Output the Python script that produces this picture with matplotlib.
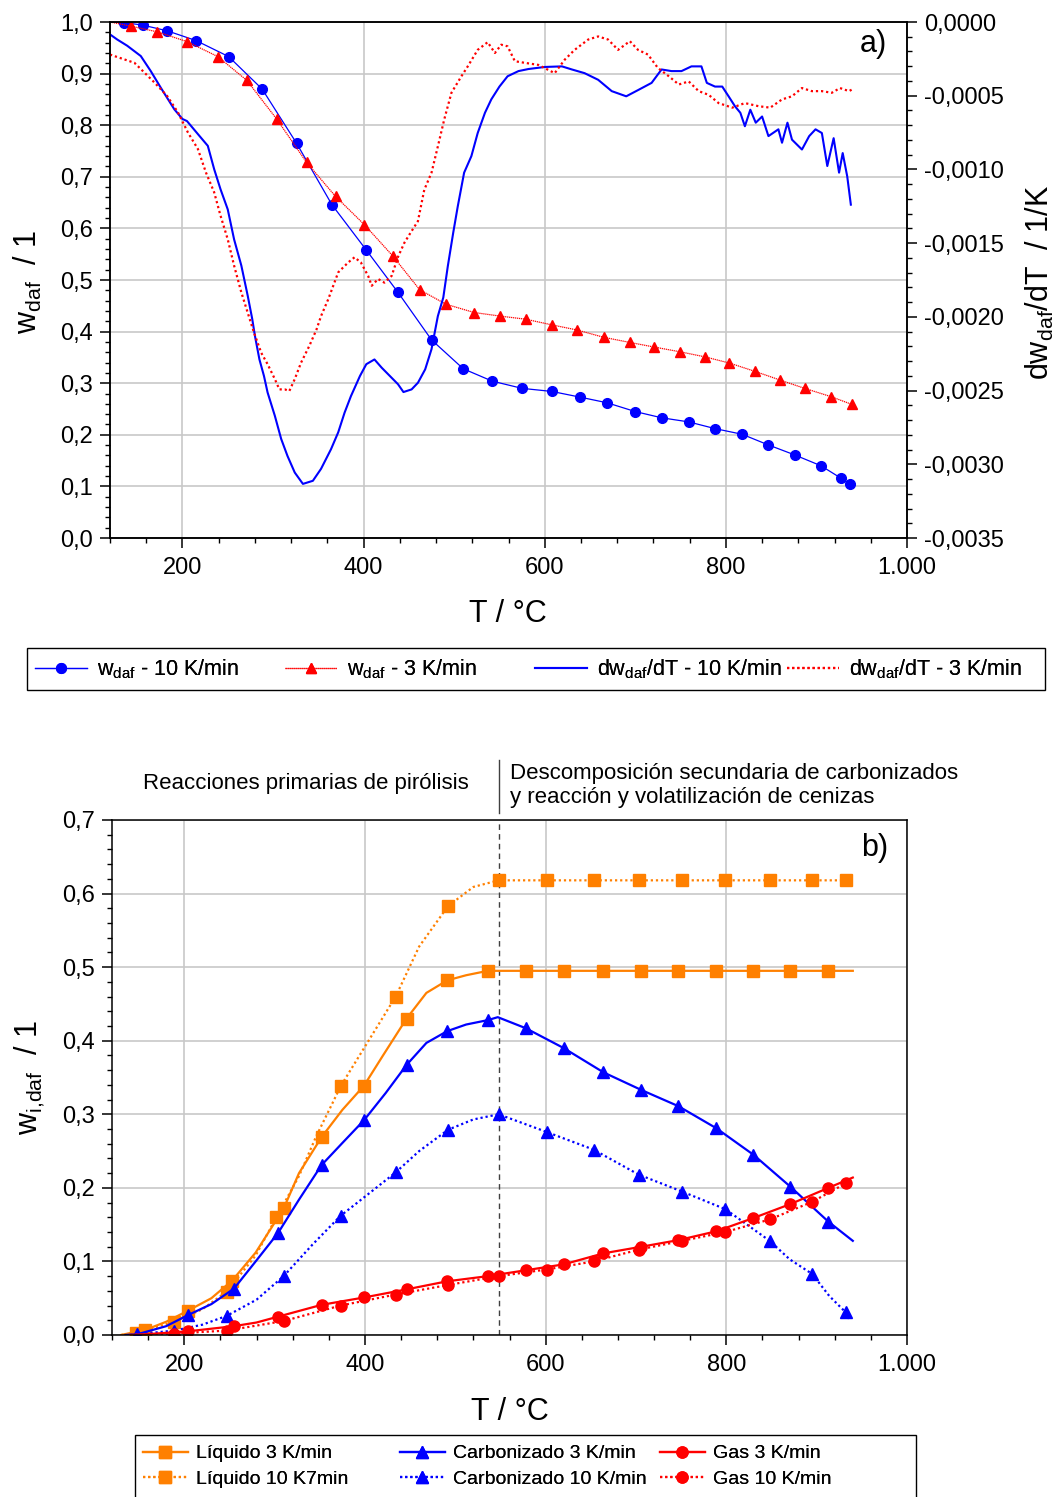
import numpy as np
import matplotlib
matplotlib.use('Agg')
import matplotlib.pyplot as plt
from matplotlib.ticker import MultipleLocator, FuncFormatter
from matplotlib.patches import Rectangle

plt.rcParams['font.family'] = ['Liberation Sans', 'DejaVu Sans']
plt.rcParams['mathtext.default'] = 'regular'

# ---------------- Panel a data ----------------
# w_daf, 10 K/min (line start + circle markers)
wdaf10_T = [120, 135, 156, 183, 215, 251, 288, 326, 365, 403, 438, 475, 510, 542, 575, 608, 639,
            669, 700, 729, 759, 788, 818, 846, 876, 905, 927, 937]
wdaf10_w = [1.000, 0.999, 0.994, 0.983, 0.964, 0.933, 0.870, 0.765, 0.646, 0.558, 0.476, 0.384, 0.328,
            0.304, 0.290, 0.284, 0.273, 0.262, 0.245, 0.233, 0.225, 0.212, 0.201, 0.181, 0.161, 0.140,
            0.116, 0.104]
# w_daf, 3 K/min (line start + triangle markers)
wdaf3_T = [120, 143, 172, 205, 239, 271, 304, 337, 369, 401, 432, 462, 491, 522, 551, 579, 608, 636,
           665, 694, 721, 749, 777, 804, 832, 860, 887, 916, 939]
wdaf3_w = [1.000, 0.992, 0.981, 0.962, 0.933, 0.887, 0.812, 0.728, 0.662, 0.607, 0.547, 0.481, 0.453,
           0.437, 0.430, 0.424, 0.413, 0.403, 0.389, 0.379, 0.370, 0.361, 0.351, 0.339, 0.323, 0.306,
           0.290, 0.274, 0.259]

# dw_daf/dT, 10 K/min  (units: 1e-4 1/K)
dw10_T = [120, 128, 139, 154, 165, 176, 191, 200, 205, 217, 228, 235, 242, 250, 257, 265, 272, 277,
          280, 285, 290, 294, 302, 309, 316, 324, 333, 344, 353, 364, 372, 379, 386, 396, 403, 412,
          420, 429, 438, 444, 453, 460, 468, 475, 482, 488, 493, 499, 504, 511, 519, 526, 534, 541,
          550, 559, 571, 582, 600, 619, 630, 644, 659, 674, 690, 703, 718, 729, 740, 751, 762, 773,
          779, 788, 796, 803, 810, 816, 821, 827, 833, 840, 847, 858, 862, 868, 873, 884, 892, 899,
          906, 912, 919, 925, 929, 934, 938]
dw10_v = [-0.84, -1.19, -1.61, -2.31, -3.33, -4.45, -5.92, -6.58, -6.72, -7.60, -8.40, -9.98, -11.34,
          -12.71, -14.74, -16.52, -18.55, -20.13, -21.28, -22.89, -24.01, -25.13, -26.71, -28.28,
          -29.44, -30.56, -31.33, -31.12, -30.31, -28.98, -27.83, -26.50, -25.38, -24.01, -23.21,
          -22.89, -23.45, -24.01, -24.57, -25.10, -24.92, -24.47, -23.56, -22.19, -19.95, -18.69,
          -16.56, -14.28, -12.50, -10.22, -9.10, -7.53, -6.16, -5.25, -4.38, -3.68, -3.33, -3.19,
          -3.05, -3.01, -3.22, -3.47, -3.92, -4.69, -5.04, -4.62, -4.13, -3.22, -3.33, -3.33, -3.01,
          -3.01, -4.13, -4.38, -4.38, -5.04, -5.71, -6.16, -7.07, -5.95, -6.83, -6.41, -7.74, -7.28,
          -8.19, -6.83, -7.98, -8.65, -7.74, -7.28, -7.53, -9.77, -7.88, -10.22, -8.89, -10.47,
          -12.39]
# dw_daf/dT, 3 K/min  (units: 1e-4 1/K)
dw3_T = [120, 135, 147, 158, 169, 183, 195, 206, 217, 226, 235, 242, 250, 257, 265, 272, 279, 287,
         294, 302, 307, 313, 318, 324, 331, 340, 348, 353, 361, 372, 383, 390, 397, 405, 409, 416,
         423, 431, 438, 445, 452, 460, 467, 475, 482, 489, 497, 508, 515, 526, 537, 545, 552, 559,
         567, 578, 593, 611, 622, 633, 648, 659, 670, 681, 694, 703, 714, 725, 737, 748, 759, 770,
         781, 792, 807, 821, 836, 849, 862, 873, 884, 895, 906, 917, 926, 936, 940]
dw3_v = [-2.21, -2.52, -2.77, -3.43, -4.10, -5.01, -6.13, -7.49, -8.61, -10.22, -11.55, -13.13,
         -14.74, -16.52, -18.34, -19.71, -21.07, -22.44, -23.21, -24.22, -24.92, -24.92, -25.03,
         -24.22, -23.10, -21.98, -20.86, -19.95, -18.80, -16.98, -16.31, -15.96, -16.31, -17.22,
         -17.89, -17.43, -17.68, -17.22, -15.93, -14.98, -14.28, -13.51, -11.38, -10.22, -8.44,
         -6.62, -4.80, -3.68, -3.01, -1.89, -1.37, -2.10, -1.54, -1.65, -2.66, -2.77, -2.91, -3.47,
         -2.56, -1.89, -1.19, -0.98, -1.19, -1.89, -1.30, -1.89, -2.21, -3.12, -3.68, -4.24, -4.03,
         -4.69, -4.94, -5.50, -5.81, -5.50, -5.71, -5.81, -5.25, -5.04, -4.48, -4.69, -4.69, -4.80,
         -4.48, -4.69, -4.55]

# ---------------- Panel b data ----------------
liq3_T = [130, 157, 180, 204, 230, 253, 279, 310, 327, 352, 375, 399, 420, 446, 468, 491, 512, 536,
          548, 578, 620, 663, 706, 747, 789, 830, 871, 913, 940]
liq3_w = [0.000, 0.007, 0.018, 0.033, 0.050, 0.074, 0.112, 0.172, 0.220, 0.269, 0.306, 0.339, 0.380,
          0.430, 0.465, 0.482, 0.489, 0.495, 0.495, 0.495, 0.495, 0.495, 0.495, 0.495, 0.495, 0.495,
          0.495, 0.495, 0.495]
liq3_mk = [157, 204, 253, 310, 352, 399, 446, 491, 536, 578, 620, 663, 706, 747, 789, 830, 871, 913]

liq10_T = [130, 147, 189, 220, 247, 279, 302, 327, 346, 364, 373, 400, 434, 460, 492, 520, 548, 601,
           653, 703, 751, 799, 848, 895, 932, 937]
liq10_w = [0.000, 0.003, 0.018, 0.035, 0.059, 0.108, 0.160, 0.216, 0.270, 0.315, 0.338, 0.392, 0.460,
           0.528, 0.583, 0.609, 0.618, 0.618, 0.618, 0.618, 0.618, 0.618, 0.618, 0.618, 0.618, 0.618]
liq10_mk = [147, 189, 247, 302, 373, 434, 492, 548, 601, 653, 703, 751, 799, 848, 895, 932]

car3_T = [135, 148, 180, 204, 230, 255, 279, 304, 327, 352, 375, 399, 423, 446, 468, 491, 512, 536,
          547, 578, 620, 664, 706, 747, 789, 830, 871, 913, 940]
car3_w = [0.000, 0.001, 0.012, 0.027, 0.042, 0.063, 0.100, 0.139, 0.184, 0.231, 0.261, 0.292, 0.329,
          0.367, 0.397, 0.413, 0.422, 0.428, 0.432, 0.417, 0.390, 0.357, 0.333, 0.311, 0.281, 0.245,
          0.2015, 0.154, 0.128]
car3_mk = [148, 204, 255, 304, 352, 399, 446, 491, 536, 578, 620, 664, 706, 747, 789, 830, 871, 913]

car10_T = [140, 189, 220, 247, 280, 310, 342, 373, 401, 434, 460, 492, 520, 548, 601, 653, 703, 751,
           799, 848, 870, 895, 914, 932, 937]
car10_w = [0.000, 0.006, 0.014, 0.026, 0.048, 0.080, 0.123, 0.162, 0.189, 0.221, 0.250, 0.279, 0.293,
           0.300, 0.276, 0.252, 0.218, 0.195, 0.171, 0.128, 0.103, 0.083, 0.053, 0.031, 0.019]
car10_mk = [189, 247, 310, 373, 434, 492, 548, 601, 653, 703, 751, 799, 848, 895, 932]

gas3_T = [140, 157, 204, 255, 280, 304, 352, 399, 446, 491, 536, 578, 620, 664, 706, 747, 789, 830,
          871, 913, 940]
gas3_w = [0.000, 0.001, 0.005, 0.012, 0.017, 0.025, 0.041, 0.051, 0.062, 0.073, 0.080, 0.088, 0.096,
          0.111, 0.120, 0.129, 0.141, 0.159, 0.178, 0.200, 0.214]
gas3_mk = [204, 255, 304, 352, 399, 446, 491, 536, 578, 620, 664, 706, 747, 789, 830, 871, 913]

gas10_T = [140, 189, 247, 310, 373, 434, 492, 548, 601, 653, 703, 751, 799, 848, 895, 932, 937]
gas10_w = [0.000, 0.002, 0.006, 0.019, 0.040, 0.055, 0.068, 0.080, 0.089, 0.100, 0.116, 0.128, 0.140,
           0.157, 0.181, 0.206, 0.209]
gas10_mk = [189, 247, 310, 373, 434, 492, 548, 601, 653, 703, 751, 799, 848, 895, 932]

T_split = 548

# ---------------- Figure ----------------
W, H = 1061, 1497
def fx(px):
    return px / W
def fy(py):
    return 1 - py / H

BLUE = '#0000FF'
RED = '#FF0000'
ORANGE = '#FF8000'
GRID = '#C8C8C8'
DOT = (0, (1, 1.3))

fig = plt.figure(figsize=(W / 100, H / 100), dpi=100)

def xfmt(v, p):
    v = int(round(v))
    return '1.000' if v == 1000 else str(v)

def style_axes(ax):
    ax.set_xlim(120, 1000)
    ax.xaxis.set_major_locator(MultipleLocator(200))
    ax.xaxis.set_minor_locator(MultipleLocator(40))
    ax.xaxis.set_major_formatter(FuncFormatter(xfmt))
    ax.yaxis.set_major_locator(MultipleLocator(0.1))
    ax.yaxis.set_minor_locator(MultipleLocator(0.02))
    ax.yaxis.set_major_formatter(FuncFormatter(lambda v, p: f'{v:.1f}'.replace('.', ',')))
    ax.tick_params(which='major', direction='out', length=7, width=1.1, labelsize=17, pad=5)
    ax.tick_params(which='minor', direction='out', length=3.5, width=1.0)
    ax.tick_params(axis='x', which='major', pad=7)
    ax.grid(True, which='major', color=GRID, lw=1.2)
    ax.set_axisbelow(True)
    for s in ax.spines.values():
        s.set_linewidth(1.1)

# ---- panel a ----
ax1 = fig.add_axes([fx(110), fy(538), fx(907) - fx(110), fy(22) - fy(538)])
style_axes(ax1)
ax1.set_ylim(0, 1.0)
ax1.tick_params(right=False)

ax1b = ax1.twinx()
ax1b.set_ylim(-0.0035, 0)
ax1b.yaxis.set_major_locator(MultipleLocator(0.0005))
ax1b.yaxis.set_minor_locator(MultipleLocator(0.0001))
def rfmt(v, p):
    if abs(v) < 1e-12:
        v = 0.0
    return f'{v:.4f}'.replace('.', ',')
ax1b.yaxis.set_major_formatter(FuncFormatter(rfmt))
ax1b.tick_params(which='major', direction='out', length=7, width=1.1, labelsize=17, pad=5)
ax1b.tick_params(which='minor', direction='out', length=3.5, width=1.0)
for s in ax1b.spines.values():
    s.set_linewidth(1.1)

l_a1, = ax1.plot(wdaf10_T, wdaf10_w, '-', color=BLUE, lw=0.9, marker='o', ms=7,
                 markevery=list(range(1, len(wdaf10_T))), label=r'$w_{daf}$ - 10 K/min')
l_a2, = ax1.plot(wdaf3_T, wdaf3_w, ls=(0, (1, 0.6)), color=RED, lw=0.9, marker='^', ms=7,
                 markevery=list(range(1, len(wdaf3_T))), label=r'$w_{daf}$ - 3 K/min')
l_a3, = ax1b.plot(dw10_T, np.array(dw10_v) * 1e-4, '-', color=BLUE, lw=1.5,
                  label=r'$dw_{daf}$/dT - 10 K/min')
l_a4, = ax1b.plot(dw3_T, np.array(dw3_v) * 1e-4, ls=DOT, color=RED, lw=1.6,
                  label=r'$dw_{daf}$/dT - 3 K/min')

fig.text(fx(873), fy(44), 'a)', ha='center', va='center', fontsize=22)
fig.text(fx(508), fy(614), 'T / °C', ha='center', va='center', fontsize=22)
fig.text(fx(28), fy(282), r'$w_{daf}$  / 1', ha='center', va='center', fontsize=22, rotation=90)
fig.text(fx(1040), fy(282), r'$dw_{daf}$/dT  / 1/K', ha='center', va='center', fontsize=22,
         rotation=90)

# legend a: 4 fixed columns + frame
fig.add_artist(Rectangle((fx(27), fy(690)), fx(1045) - fx(27), fy(648) - fy(690),
                         transform=fig.transFigure, fill=False, ec='black', lw=1.0))
for h, xs in zip([l_a1, l_a2, l_a3, l_a4], [35, 285, 535, 787]):
    lg = fig.legend(handles=[h], loc='center left', bbox_to_anchor=(fx(xs), fy(669)),
                    frameon=False, fontsize=15.5, handlelength=2.4, handletextpad=0.5,
                    borderpad=0, borderaxespad=0)
    fig.add_artist(lg)

# ---- panel b ----
ax2 = fig.add_axes([fx(112), fy(1335), fx(907) - fx(112), fy(820) - fy(1335)])
style_axes(ax2)
ax2.set_ylim(0, 0.7)

def mk(T, marks):
    return list(np.isin(T, marks))

series_b = [
    (liq3_T, liq3_w, liq3_mk, ORANGE, '-', 's', 8, 'Líquido 3 K/min'),
    (liq10_T, liq10_w, liq10_mk, ORANGE, DOT, 's', 8, 'Líquido 10 K7min'),
    (car3_T, car3_w, car3_mk, BLUE, '-', '^', 9, 'Carbonizado 3 K/min'),
    (car10_T, car10_w, car10_mk, BLUE, DOT, '^', 9, 'Carbonizado 10 K/min'),
    (gas3_T, gas3_w, gas3_mk, RED, '-', 'o', 8, 'Gas 3 K/min'),
    (gas10_T, gas10_w, gas10_mk, RED, DOT, 'o', 8, 'Gas 10 K/min'),
]
handles_b = []
for T, w, mks, c, ls, m, ms, lab in series_b:
    h, = ax2.plot(T, w, ls=ls, color=c, lw=1.6, marker=m, ms=ms, markevery=mk(T, mks), label=lab)
    handles_b.append(h)

ax2.axvline(T_split, color='#404040', ls=(0, (4, 3)), lw=1.0, zorder=1)
ax2.plot([T_split, T_split], [(1335 - 813) / 515 * 0.7, (1335 - 760) / 515 * 0.7], color='#404040',
         lw=1.0, clip_on=False)

fig.text(fx(306), fy(784), 'Reacciones primarias de pirólisis', ha='center', va='center', fontsize=16)
fig.text(fx(510), fy(773), 'Descomposición secundaria de carbonizados', ha='left', va='center',
         fontsize=16)
fig.text(fx(510), fy(798), 'y reacción y volatilización de cenizas', ha='left', va='center',
         fontsize=16)
fig.text(fx(875), fy(848), 'b)', ha='center', va='center', fontsize=22)
fig.text(fx(510), fy(1412), 'T / °C', ha='center', va='center', fontsize=22)
fig.text(fx(30), fy(1078), r'$w_{i{,}daf}$  / 1', ha='center', va='center', fontsize=22, rotation=90)

fig.add_artist(Rectangle((fx(135), fy(1510)), fx(916) - fx(135), fy(1435) - fy(1510),
                         transform=fig.transFigure, fill=False, ec='black', lw=1.0))
for i, xs in enumerate([143, 400, 660]):
    lg = fig.legend(handles=handles_b[2 * i:2 * i + 2], loc='center left',
                    bbox_to_anchor=(fx(xs), fy(1466.5)), frameon=False, fontsize=14,
                    handlelength=2.3, handletextpad=0.45, labelspacing=0.42,
                    borderpad=0, borderaxespad=0)
    fig.add_artist(lg)

fig.savefig('out.png', dpi=100)
